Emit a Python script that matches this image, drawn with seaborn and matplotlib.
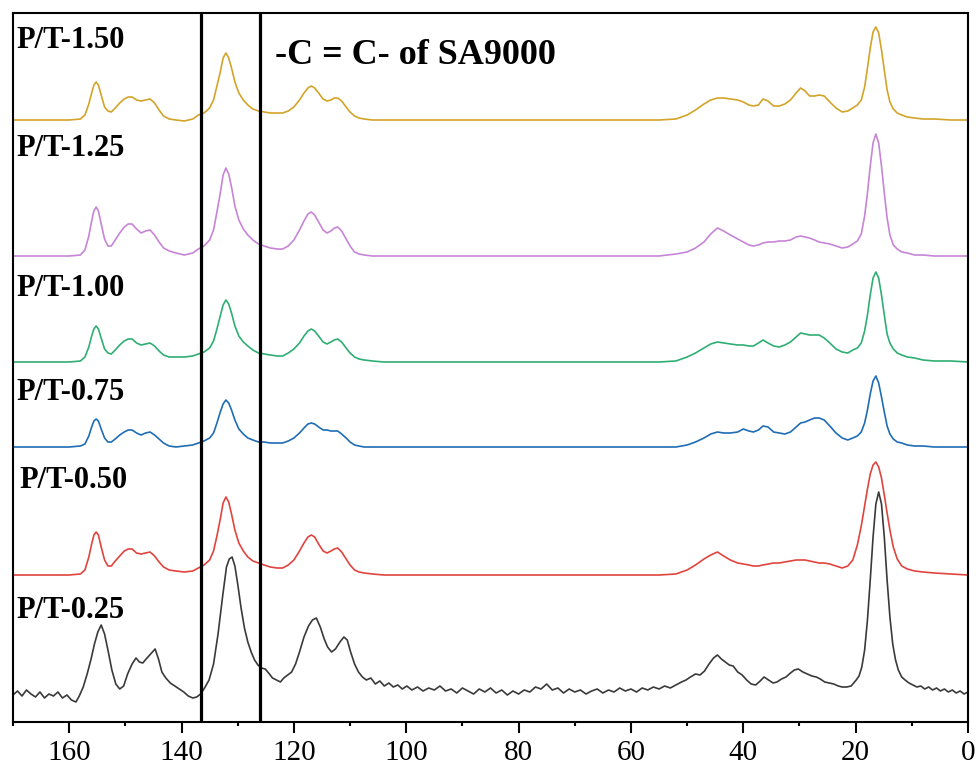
import pandas as pd
import seaborn as sns
import matplotlib.pyplot as plt
from matplotlib.ticker import MultipleLocator

# shared chemical shift grid (ppm) for the smooth spectra
ppm = [170, 165, 160, 158, 157.2, 156.5, 156, 155.6, 155.2, 154.8,
       154.3, 153.7, 153.1, 152.5, 151.8, 151, 150.2, 149.5, 148.8, 148,
       147.2, 146.4, 145.6, 144.8, 144, 143.2, 142.2, 141, 139.5, 138,
       137, 136, 135, 134.3, 133.7, 133.1, 132.6, 132.1, 131.6, 131.1,
       130.5, 129.8, 129, 128.2, 127.3, 126.3, 125.3, 124.2, 123, 122,
       121, 120, 119, 118.2, 117.5, 116.9, 116.3, 115.6, 114.8, 114.1,
       113.4, 112.8, 112.2, 111.5, 110.7, 110, 109.2, 108.4, 107.5, 106,
       104, 95, 85, 75, 65, 55, 52, 50, 48.5, 47,
       45.8, 44.6, 43.5, 42.3, 41, 40, 39, 38.2, 37.3, 36.5,
       35.6, 34.6, 33.6, 32.6, 31.6, 30.6, 29.8, 29, 28.2, 27.3,
       26.5, 25.6, 24.6, 23.5, 22.4, 21.4, 20.5, 19.7, 19, 18.4,
       17.9, 17.4, 16.9, 16.4, 15.9, 15.4, 14.9, 14.4, 13.9, 13.3,
       12.6, 11.8, 10.8, 9.5, 8, 6, 3, 0]

pt150 = [0, 0, 0, 1, 5, 16, 27, 35, 38, 35,
         25, 13, 9, 8, 12, 17, 21, 23, 23, 20,
         19, 20, 21, 17, 10, 4, 1, 0, -1, 1,
         5, 7, 12, 20, 34, 48, 62, 67, 62, 52,
         38, 27, 20, 15, 11, 9, 8, 7, 7, 7,
         9, 13, 20, 27, 32, 34, 32, 27, 21, 19,
         20, 22, 22, 19, 13, 8, 4, 2, 1, 0,
         0, 0, 0, 0, 0, 0, 1, 5, 10, 16,
         20, 22, 22, 21, 20, 18, 15, 14, 15, 21,
         19, 14, 14, 16, 20, 27, 32, 29, 24, 24,
         25, 24, 18, 12, 8, 9, 12, 15, 20, 33,
         52, 72, 88, 93, 87, 70, 50, 30, 18, 11,
         7, 5, 3, 2, 1, 1, 0, 0]

pt125 = [0, 0, 0, 1, 6, 20, 35, 45, 49, 45,
         32, 17, 10, 10, 16, 23, 29, 32, 32, 27,
         23, 25, 26, 21, 14, 8, 5, 3, 1, 3,
         7, 10, 16, 26, 44, 63, 81, 88, 82, 69,
         50, 36, 27, 21, 16, 12, 10, 8, 7, 7,
         10, 16, 26, 35, 42, 44, 41, 34, 26, 23,
         25, 28, 29, 25, 17, 10, 4, 2, 1, 0,
         0, 0, 0, 0, 0, 0, 2, 4, 8, 14,
         22, 28, 25, 21, 17, 14, 11, 10, 11, 13,
         14, 14, 15, 15, 16, 19, 20, 19, 18, 16,
         14, 13, 12, 10, 8, 9, 12, 15, 22, 40,
         63, 90, 113, 122, 113, 90, 63, 38, 21, 11,
         7, 4, 3, 1, 1, 0, 0, 0]

pt100 = [0, 0, 0, 1, 5, 15, 26, 33, 36, 33,
         24, 13, 9, 8, 12, 17, 21, 23, 23, 19,
         17, 18, 19, 16, 11, 7, 5, 5, 5, 6,
         8, 10, 14, 21, 33, 46, 57, 62, 58, 49,
         36, 26, 20, 16, 12, 9, 8, 7, 6, 6,
         9, 13, 19, 26, 31, 33, 31, 26, 20, 18,
         20, 22, 23, 20, 14, 9, 5, 3, 2, 1,
         0, 0, 0, 0, 0, 0, 1, 5, 9, 14,
         18, 20, 19, 18, 17, 17, 16, 16, 19, 22,
         19, 16, 15, 17, 20, 25, 29, 28, 27, 27,
         27, 24, 19, 13, 10, 9, 12, 14, 19, 31,
         47, 67, 84, 90, 84, 67, 47, 28, 19, 13,
         9, 7, 5, 4, 2, 1, 1, 0]

pt075 = [0, 0, 0, 1, 3, 11, 20, 26, 28, 26,
         18, 9, 5, 5, 8, 12, 15, 17, 17, 14,
         12, 14, 15, 12, 8, 4, 1, 0, 1, 2,
         4, 6, 9, 14, 24, 35, 43, 47, 44, 37,
         27, 18, 13, 9, 7, 5, 5, 4, 4, 4,
         6, 9, 14, 19, 23, 24, 23, 20, 17, 17,
         16, 16, 16, 13, 9, 5, 2, 1, 0, 0,
         0, 0, 0, 0, 0, 0, 0, 2, 5, 9,
         13, 15, 14, 14, 15, 18, 16, 15, 17, 21,
         20, 15, 14, 13, 15, 20, 24, 25, 27, 29,
         29, 27, 21, 14, 9, 7, 9, 11, 15, 24,
         37, 53, 66, 71, 64, 50, 35, 21, 13, 8,
         5, 4, 2, 1, 1, 0, 0, 0]

pt050 = [0, 0, 0, 1, 5, 18, 31, 40, 43, 40,
         28, 15, 9, 9, 14, 19, 24, 26, 26, 22,
         21, 22, 23, 19, 13, 8, 5, 4, 3, 4,
         7, 10, 15, 24, 39, 56, 72, 78, 73, 61,
         45, 32, 24, 18, 14, 12, 10, 8, 7, 7,
         10, 15, 24, 32, 38, 40, 38, 31, 24, 22,
         24, 26, 27, 23, 16, 10, 5, 3, 2, 1,
         0, 0, 0, 0, 0, 0, 1, 5, 10, 16,
         20, 23, 19, 15, 12, 11, 10, 9, 9, 10,
         11, 12, 12, 13, 14, 15, 15, 15, 14, 13,
         12, 12, 11, 9, 7, 9, 15, 30, 49, 69,
         86, 101, 110, 113, 108, 97, 80, 62, 45, 28,
         16, 9, 6, 4, 3, 2, 1, 0]

# the noisy P/T-0.25 spectrum has its own grid
ppm_025 = [170, 169.2, 168.4, 167.6, 166.8, 166, 165.2, 164.4, 163.6, 162.8,
           162, 161.2, 160.4, 159.6, 158.8, 158.2, 157.5, 156.8, 156.1, 155.5,
           154.9, 154.3, 153.7, 153.1, 152.4, 151.7, 151, 150.3, 149.6, 148.8,
           148.1, 147.5, 146.9, 146.3, 145.5, 144.7, 144.1, 143.5, 142.8, 142,
           141.2, 140.4, 139.6, 138.8, 138, 137.3, 136.6, 135.9, 135.1, 134.3,
           133.5, 132.7, 132, 131.5, 131, 130.5, 130, 129.4, 128.8, 128.2,
           127.6, 127, 126.4, 125.8, 125.1, 124.5, 123.8, 123.1, 122.4, 121.8,
           121.1, 120.4, 119.7, 119, 118.2, 117.4, 116.7, 116, 115.3, 114.6,
           114, 113.3, 112.6, 111.8, 111.1, 110.5, 109.9, 109.2, 108.5, 107.8,
           107.1, 106.3, 105.5, 104.7, 103.9, 103.1, 102.3, 101.5, 100.7, 99.9,
           99, 98, 97, 96, 95, 94, 93, 92, 91, 90,
           89, 88, 87, 86, 85, 84, 83, 82, 81, 80,
           79, 78, 77, 76, 75, 74, 73, 72, 71, 70,
           69, 68, 67, 66, 65, 64, 63, 62, 61, 60,
           59, 58, 57, 56, 55, 54, 53, 52, 51, 50.2,
           49.4, 48.5, 47.7, 46.9, 46.1, 45.3, 44.6, 43.9, 43.2, 42.5,
           41.8, 41, 40.2, 39.4, 38.6, 37.8, 37, 36.3, 35.5, 34.7,
           34, 33.2, 32.4, 31.6, 30.9, 30.2, 29.4, 28.6, 27.8, 27,
           26.3, 25.5, 24.7, 23.9, 23.1, 22.4, 21.6, 20.8, 20.2, 19.9,
           19.4, 18.9, 18.4, 17.9, 17.4, 16.9, 16.4, 15.9, 15.4, 14.9,
           14.4, 13.9, 13.4, 12.9, 12.4, 11.8, 11.2, 10.5, 9.8, 9.1,
           8.4, 7.7, 7, 6.3, 5.6, 4.9, 4.2, 3.5, 2.8, 2.1,
           1.4, 0.7, 0]

pt025 = [-3, 1, -4, 2, -2, -5, 0, -6, -2, -4,
         0, -6, -3, -8, -10, -4, 5, 18, 33, 48,
         60, 67, 58, 42, 22, 8, 3, 6, 18, 28,
         34, 30, 29, 33, 38, 43, 33, 20, 14, 9,
         6, 3, 0, -4, -6, -5, -2, 4, 12, 28,
         58, 95, 125, 133, 135, 126, 108, 84, 64, 50,
         40, 32, 27, 24, 23, 19, 14, 12, 10, 14,
         17, 20, 28, 40, 55, 66, 72, 74, 65, 53,
         45, 40, 43, 50, 55, 52, 40, 28, 20, 15,
         12, 14, 8, 11, 6, 9, 5, 7, 3, 6,
         2, 5, 1, 4, 2, 6, 1, 3, -1, 4,
         1, -2, 3, 0, 4, -1, 2, -3, 1, -2,
         2, 0, 5, 3, 8, 2, 4, -1, 3, 0,
         2, -2, 1, 3, -1, 2, 0, 4, 1, 3,
         0, 4, 2, 5, 3, 6, 4, 7, 10, 12,
         15, 18, 17, 21, 28, 34, 37, 33, 30, 27,
         26, 20, 17, 12, 8, 7, 11, 15, 12, 9,
         10, 13, 15, 19, 22, 23, 20, 18, 16, 15,
         13, 10, 9, 8, 6, 5, 5, 6, 10, 12,
         16, 25, 42, 72, 112, 155, 188, 200, 188, 155,
         112, 75, 48, 32, 22, 15, 12, 9, 7, 5,
         6, 3, 5, 2, 4, 1, 3, 0, 2, -1,
         1, -2, 0]

samples = ["P/T-1.50", "P/T-1.25", "P/T-1.00", "P/T-0.75", "P/T-0.50", "P/T-0.25"]
offsets = [602, 466, 360, 275, 147, 30]
colors = ["#D3A42A", "#C685D6", "#2FAE73", "#1F6DB5", "#E0443F", "#3A3A3A"]

spectra = [(ppm, pt150), (ppm, pt125), (ppm, pt100), (ppm, pt075), (ppm, pt050), (ppm_025, pt025)]

# stack the spectra into one long table
frames = []
for name, off, (x, y) in zip(samples, offsets, spectra):
    frames.append(pd.DataFrame({"ppm": x, "signal": [v + off for v in y], "sample": name}))
df = pd.concat(frames, ignore_index=True)

sns.set_style("ticks")
plt.rcParams["font.family"] = ["Liberation Serif", "DejaVu Serif"]
plt.rcParams["text.color"] = "black"
plt.rcParams["xtick.color"] = "black"
plt.rcParams["xtick.labelcolor"] = "black"

fig = plt.figure(figsize=(9.79, 7.69), dpi=100)
ax = fig.add_axes([13 / 979, 47 / 769, 955 / 979, 709 / 769])

sns.lineplot(data=df, x="ppm", y="signal", hue="sample", palette=colors,
             estimator=None, sort=False, legend=False, linewidth=1.2, ax=ax)

# region of the SA9000 double bond
ax.axvline(136.5, color="black", lw=2.3)
ax.axvline(126, color="black", lw=2.3)

label_y = [681, 574, 434, 330, 241, 111]
label_x = [169.3, 169.3, 169.3, 169.3, 168.8, 169.3]
for name, lx, ly in zip(samples, label_x, label_y):
    ax.text(lx, ly, name, fontsize=22, fontweight="bold", va="center", ha="left", color="black")
ax.text(123.3, 667, "-C = C- of SA9000", fontsize=26, fontweight="bold", va="center", ha="left",
        color="black")

ax.set_xlim(170, 0)
ax.set_ylim(0, 709)
ax.set_yticks([])
ax.set_xlabel("")
ax.set_ylabel("")
ax.xaxis.set_major_locator(MultipleLocator(20))
ax.xaxis.set_minor_locator(MultipleLocator(10))
ax.tick_params(axis="x", which="major", direction="out", length=8, width=1.5,
               labelsize=21, pad=5, color="black", labelcolor="black")
ax.tick_params(axis="x", which="minor", direction="out", length=3, width=1.5, color="black")
for s in ax.spines.values():
    s.set_visible(True)
    s.set_linewidth(1.5)
    s.set_color("black")

fig.savefig("out.png", dpi=100)
